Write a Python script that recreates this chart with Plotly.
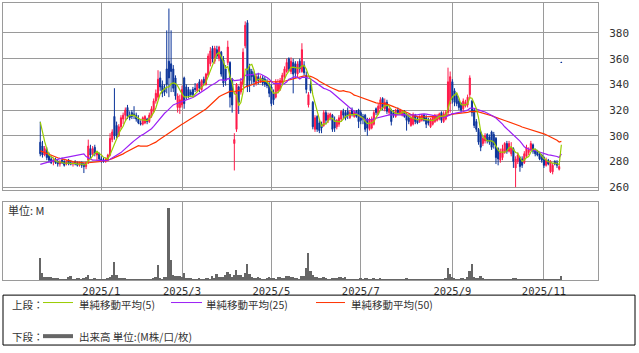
import pandas as pd
import plotly.graph_objects as go

# ---------------- data ----------------
jp_holidays = ["2024-12-31", "2025-01-01", "2025-01-02", "2025-01-03", "2025-01-13",
               "2025-02-11", "2025-02-24", "2025-03-20", "2025-04-29", "2025-05-05",
               "2025-05-06", "2025-07-21", "2025-08-11", "2025-09-15", "2025-09-23",
               "2025-10-13", "2025-11-03"]

open_ = [295, 292, 285, 289, 285, 282, 280, 281, 280, 278,
         281, 280, 278, 281, 279, 278, 280, 279, 277, 279,
         278, 276, 281, 290, 286, 291, 285, 286, 282, 281,
         280, 281, 285, 297, 315, 308, 300, 307, 313, 316,
         322, 316, 318, 317, 316, 313, 310, 309, 310, 313,
         311, 315, 319, 327, 330, 345, 339, 337, 352, 358,
         356, 352, 345, 322, 322, 324, 345, 338, 336, 334,
         336, 337, 335, 342, 336, 344, 340, 347, 356, 368,
         358, 367, 360, 365, 359, 352, 357, 357, 344, 294,
         305, 338, 334, 340, 370, 388, 352, 350, 347, 341,
         346, 342, 345, 344, 342, 340, 338, 333, 330, 335,
         336, 341, 346, 350, 360, 350, 357, 356, 348, 358,
         350, 355, 347, 324, 340, 326, 305, 315, 310, 309,
         308, 318, 312, 314, 316, 312, 307, 309, 313, 319,
         318, 319, 314, 320, 315, 319, 320, 318, 315, 316,
         313, 305, 306, 309, 321, 317, 321, 329, 321, 326,
         318, 320, 318, 315, 320, 317, 316, 319, 317, 314,
         308, 309, 316, 313, 311, 312, 316, 314, 312, 307,
         309, 311, 312, 313, 318, 311, 313, 318, 325, 342,
         335, 331, 327, 325, 321, 323, 324, 332, 327, 320,
         311, 305, 303, 294, 296, 301, 299, 303, 301, 298,
         290, 281, 283, 287, 294, 288, 286, 290, 275, 280,
         283, 282, 279, 284, 287, 289, 293, 289, 288, 286,
         285, 283, 277, 281, 272, 272, 280, 279, 274, 357.2]

high = [311, 296, 292, 291, 287, 284, 283, 283, 282, 281,
        283, 281, 281, 282, 281, 280, 281, 280, 280, 280,
        279, 280, 297, 293, 292, 293, 288, 287, 284, 283,
        283, 286, 302, 305, 337, 311, 309, 316, 318, 322,
        324, 319, 320, 323, 318, 316, 312, 315, 316, 314,
        318, 323, 329, 336, 351, 350, 343, 340, 382, 399,
        382, 355, 347, 333, 332, 339, 346, 340, 338, 336,
        338, 341, 341, 344, 344, 346, 349, 364, 369, 370,
        370, 370, 370, 366, 362, 355, 374, 358, 345, 302,
        341, 339, 345, 368, 389, 390, 356, 352, 350, 348,
        349, 347, 347, 346, 344, 342, 340, 336, 344, 344,
        345, 349, 354, 360, 361, 361, 360, 358, 358, 360,
        372, 358, 350, 334, 343, 327, 316, 316, 312, 311,
        320, 320, 318, 318, 317, 315, 313, 316, 320, 321,
        320, 322, 320, 322, 320, 320, 321, 320, 317, 317,
        314, 314, 315, 320, 322, 325, 330, 330, 329, 328,
        322, 321, 320, 321, 322, 321, 320, 320, 318, 316,
        316, 318, 317, 315, 316, 317, 317, 316, 314, 314,
        316, 317, 317, 318, 319, 319, 320, 353, 350, 344,
        337, 333, 329, 326, 329, 328, 332, 347, 328, 321,
        313, 306, 304, 300, 302, 302, 301, 304, 303, 299,
        291, 290, 293, 295, 296, 296, 295, 291, 284, 287,
        284, 284, 288, 293, 291, 296, 294, 290, 289, 287,
        286, 284, 283, 282, 281, 279, 281, 281, 278, 357.2]

low = [284, 283, 284, 281, 279, 278, 277, 278, 276, 276,
       278, 276, 277, 277, 277, 276, 277, 276, 276, 275,
       271, 274, 278, 282, 284, 284, 281, 280, 279, 279,
       279, 280, 284, 295, 297, 298, 299, 305, 309, 312,
       313, 312, 313, 313, 311, 309, 308, 308, 309, 309,
       310, 314, 318, 325, 328, 335, 330, 331, 333, 330,
       334, 334, 328, 318, 317, 322, 321, 328, 329, 330,
       330, 334, 334, 334, 335, 339, 339, 346, 354, 357,
       356, 360, 358, 346, 338, 339, 355, 322, 318, 273,
       303, 317, 332, 338, 368, 334, 334, 340, 338, 339,
       340, 341, 339, 338, 337, 330, 323, 324, 329, 333,
       335, 340, 344, 349, 350, 348, 333, 345, 345, 349,
       349, 347, 333, 322, 333, 305, 303, 303, 302, 302,
       307, 309, 310, 312, 303, 303, 305, 307, 311, 313,
       312, 313, 313, 315, 314, 314, 306, 309, 309, 303,
       300, 304, 305, 308, 316, 316, 320, 320, 319, 317,
       316, 308, 314, 314, 316, 316, 315, 314, 304, 309,
       307, 308, 309, 309, 310, 311, 311, 306, 308, 306,
       308, 310, 311, 312, 310, 310, 312, 316, 318, 325,
       323, 323, 320, 318, 319, 322, 322, 329, 315, 306,
       303, 293, 288, 292, 294, 294, 293, 289, 290, 278,
       277, 279, 281, 286, 286, 287, 284, 275, 260, 278,
       272, 275, 278, 283, 285, 288, 286, 284, 284, 281,
       279, 275, 276, 277, 271, 270, 277, 275, 273, 357.0]

close = [286, 285, 290, 283, 281, 279, 281, 279, 278, 280,
         279, 277, 280, 278, 278, 279, 278, 277, 279, 277,
         276, 279, 292, 285, 290, 286, 287, 282, 281, 280,
         282, 285, 298, 303, 300, 300, 307, 314, 316, 320,
         315, 314, 315, 316, 313, 310, 309, 314, 315, 311,
         316, 321, 327, 333, 344, 338, 333, 334, 340, 345,
         350, 337, 331, 331, 328, 336, 325, 331, 331, 332,
         332, 336, 340, 337, 343, 341, 348, 362, 366, 360,
         368, 362, 369, 348, 341, 343, 369, 330, 324, 297,
         340, 326, 342, 365, 386, 338, 343, 346, 342, 346,
         343, 345, 341, 340, 339, 333, 325, 328, 342, 340,
         343, 347, 352, 357, 352, 358, 348, 349, 356, 352,
         367, 349, 336, 332, 335, 307, 314, 305, 304, 306,
         318, 312, 316, 317, 305, 306, 312, 314, 319, 316,
         314, 316, 318, 317, 318, 315, 311, 312, 313, 305,
         306, 313, 313, 318, 318, 323, 328, 322, 326, 319,
         321, 311, 316, 320, 318, 320, 319, 315, 312, 311,
         314, 316, 311, 310, 315, 316, 312, 309, 310, 313,
         315, 316, 315, 317, 312, 317, 318, 342, 346, 328,
         326, 325, 322, 320, 327, 326, 330, 345, 318, 308,
         305, 295, 291, 298, 300, 296, 295, 291, 293, 283,
         282, 287, 290, 294, 288, 294, 291, 280, 282, 285,
         276, 277, 286, 291, 289, 294, 288, 286, 285, 282,
         281, 277, 281, 278, 280, 277, 278, 277, 276, 357.0]

# closes before the first displayed bar (inferred from the starting levels of the averages)
prior_close = [322, 320, 318, 316, 314, 312, 310, 308, 306, 304,
               302, 300, 298, 296, 294, 292, 290, 288, 286, 284,
               282, 282, 281, 281, 280,
               272, 270, 268, 268, 270, 271, 270, 269, 268, 270,
               272, 271, 270, 269, 268, 270, 271, 270, 268, 266,
               330, 320, 312, 305]

volume = [2.2, 0.7, 0.3, 0.3, 0.3, 0.3, 0.2, 0.2, 0.2, 0.1,
          0.1, 0.1, 0.1, 0.3, 0.4, 0.1, 0.1, 0.2, 0.2, 0.1,
          0.2, 0.3, 0.5, 0.1, 0.1, 0.2, 0.1, 0.1, 0.1, 0.1,
          0.1, 0.2, 0.3, 0.5, 1.8, 0.5, 0.2, 0.2, 0.2, 0.2,
          0.1, 0.1, 0.1, 0.1, 0.1, 0.1, 0.1, 0.1, 0.1, 0.1,
          0.1, 0.1, 0.2, 0.3, 1.5, 0.2, 0.1, 0.3, 0.3, 7.3,
          2.0, 0.5, 0.4, 0.4, 0.4, 0.3, 0.7, 0.2, 0.2, 0.2,
          0.1, 0.1, 0.1, 0.2, 0.1, 0.1, 0.2, 0.2, 0.1, 0.4,
          0.2, 0.6, 0.3, 0.3, 0.3, 0.5, 0.8, 0.6, 0.3, 0.5,
          1.0, 0.5, 0.5, 0.3, 0.7, 1.6, 0.6, 0.3, 0.2, 0.2,
          0.3, 0.2, 0.1, 0.1, 0.2, 0.3, 0.2, 0.2, 0.1, 0.3,
          0.3, 0.2, 0.2, 0.4, 0.4, 0.3, 0.3, 0.2, 0.2, 0.1,
          0.4, 0.4, 1.2, 2.7, 0.9, 0.5, 0.3, 0.3, 0.2, 0.2,
          0.3, 0.2, 0.1, 0.1, 0.2, 0.2, 0.2, 0.3, 0.3, 0.2,
          0.3, 0.1, 0.1, 0.1, 0.1, 0.1, 0.1, 0.2, 0.1, 0.2,
          0.2, 0.1, 0.1, 0.2, 0.1, 0.1, 0.2, 0.1, 0.1, 0.1,
          0.1, 0.1, 0.1, 0.1, 0.1, 0.1, 0.1, 0.1, 0.2, 0.1,
          0.1, 0.1, 0.1, 0.1, 0.1, 0.1, 0.1, 0.1, 0.1, 0.1,
          0.1, 0.1, 0.1, 0.1, 0.1, 0.1, 0.2, 1.2, 0.6, 0.3,
          0.2, 0.1, 0.1, 0.2, 0.2, 0.1, 0.3, 0.9, 1.6, 0.3,
          0.2, 0.2, 0.4, 0.2, 0.1, 0.1, 0.1, 0.1, 0.1, 0.1,
          0.1, 0.1, 0.1, 0.1, 0.1, 0.1, 0.1, 0.2, 0.2, 0.1,
          0.1, 0.1, 0.1, 0.1, 0.1, 0.1, 0.1, 0.1, 0.1, 0.1,
          0.1, 0.1, 0.1, 0.1, 0.1, 0.1, 0.1, 0.1, 0.1, 0.4]

price_ticks = [260, 280, 300, 320, 340, 360, 380]
month_labels = ["2025/1", "2025/3", "2025/5", "2025/7", "2025/9", "2025/11"]
month_keys = ["2025-01", "2025-03", "2025-05", "2025-07", "2025-09", "2025-11"]

# ---------------- derived ----------------
dates = [d for d in pd.bdate_range("2024-11-21", "2025-11-14")
         if d.strftime("%Y-%m-%d") not in jp_holidays]
assert len(dates) == len(close)
xi = list(range(len(dates)))
month_pos = []
for key in month_keys:
    month_pos.append(next(i for i, d in enumerate(dates) if d.strftime("%Y-%m") == key))

allc = pd.Series(prior_close + close, dtype=float)
n0 = len(prior_close)
ma5 = allc.rolling(5, min_periods=1).mean().iloc[n0:].tolist()
ma25 = allc.rolling(25, min_periods=1).mean().iloc[n0:].tolist()
ma50 = allc.rolling(50, min_periods=1).mean().iloc[n0:].tolist()

W, H = 639, 353
def fx(p):
    return p / W
def fy(p):
    return 1 - p / H

RED = "#ff1a4a"
BLUE = "#0a3399"
GRID = "#9a9a9a"
TXT = "#333333"
CJK = "Noto Sans CJK JP"
XR = [-17.1, 255.8]

fig = go.Figure()
fig.add_trace(go.Candlestick(
    x=xi, open=open_, high=high, low=low, close=close,
    increasing=dict(line=dict(color=RED, width=1), fillcolor=RED),
    decreasing=dict(line=dict(color=BLUE, width=1), fillcolor=BLUE),
    whiskerwidth=0, xaxis="x", yaxis="y", hoverinfo="skip"))
for vals, col in [(ma50, "#ff3300"), (ma25, "#9b1ff5"), (ma5, "#99cc00")]:
    fig.add_trace(go.Scatter(x=xi, y=vals, mode="lines",
                             line=dict(color=col, width=1.2),
                             xaxis="x", yaxis="y", hoverinfo="skip"))
fig.add_trace(go.Bar(x=xi, y=volume, marker=dict(color="#666666", line=dict(width=0)),
                     width=0.85, xaxis="x2", yaxis="y2", hoverinfo="skip"))

axis_common = dict(showline=True, mirror=True, linecolor=GRID, linewidth=1,
                   zeroline=False, fixedrange=True)

fig.update_layout(
    width=W, height=H, autosize=False,
    margin=dict(l=0, r=0, t=0, b=0),
    paper_bgcolor="white", plot_bgcolor="white",
    showlegend=False, bargap=0,
    xaxis=dict(domain=[fx(3), fx(598)], range=XR, anchor="y",
               tickvals=month_pos, showticklabels=False, ticks="",
               showgrid=True, gridcolor=GRID, gridwidth=1,
               rangeslider=dict(visible=False), **axis_common),
    yaxis=dict(domain=[fy(192.3), fy(3.3)], range=[257.7, 403.1], anchor="x",
               side="right", tickvals=price_ticks, ticks="outside", ticklen=8,
               tickcolor="rgba(0,0,0,0)",
               tickfont=dict(family="DejaVu Sans Mono", size=11, color=TXT),
               showgrid=True, gridcolor=GRID, gridwidth=1, **axis_common),
    xaxis2=dict(domain=[fx(3), fx(598)], range=XR, anchor="y2",
                tickvals=month_pos, ticktext=month_labels,
                ticks="outside", ticklen=1, tickcolor="rgba(0,0,0,0)",
                tickfont=dict(family="DejaVu Sans Mono", size=10.5, color=TXT),
                showgrid=True, gridcolor=GRID, gridwidth=1, **axis_common),
    yaxis2=dict(domain=[fy(283.3), fy(204.3)], range=[0, 7.9], anchor="x2",
                showticklabels=False, showgrid=False, ticks="", **axis_common),
)

shapes = [
    dict(type="rect", xref="paper", yref="paper", x0=fx(3), x1=fx(635),
         y0=fy(349), y1=fy(298.5), line=dict(color="black", width=1)),
    dict(type="line", xref="paper", yref="paper", x0=fx(43), x1=fx(73),
         y0=fy(306), y1=fy(306), line=dict(color="#99cc00", width=1)),
    dict(type="line", xref="paper", yref="paper", x0=fx(171), x1=fx(202),
         y0=fy(306), y1=fy(306), line=dict(color="#9b1ff5", width=1)),
    dict(type="line", xref="paper", yref="paper", x0=fx(316), x1=fx(345),
         y0=fy(306), y1=fy(306), line=dict(color="#ff3300", width=1)),
    dict(type="line", xref="paper", yref="paper", x0=fx(43), x1=fx(73),
         y0=fy(340), y1=fy(340), line=dict(color="#666666", width=4)),
]
fig.update_layout(shapes=shapes)

def note(text, x, y, size=11):
    fig.add_annotation(text=text, xref="paper", yref="paper", x=fx(x), y=fy(y),
                       xanchor="left", yanchor="middle", showarrow=False,
                       font=dict(family=CJK, size=size, color=TXT), borderpad=0)

note("単位: M", 7, 212)
note("上段：", 11, 307.5, 10.5)
note("単純移動平均(5)", 78, 307.5, 10.5)
note("単純移動平均(25)", 205, 307.5, 10.5)
note("単純移動平均(50)", 350, 307.5, 10.5)
note("下段：", 11, 340, 10.5)
note("出来高 単位:(M株/口/枚)", 78, 340, 10.5)

fig.write_html("out.html")
